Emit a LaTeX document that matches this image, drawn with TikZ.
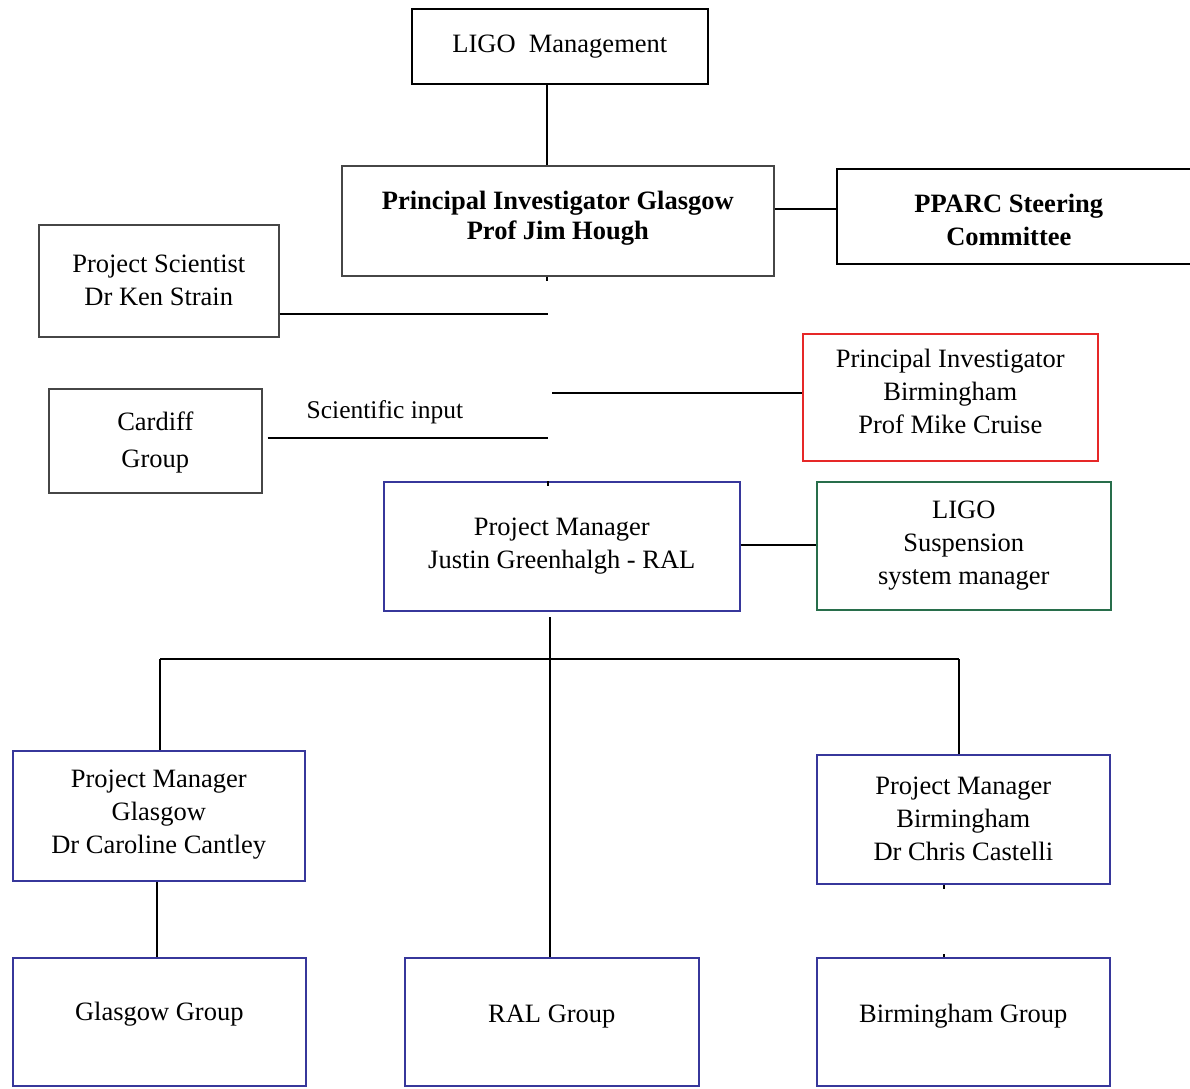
\documentclass[tikz,border=0pt]{standalone}
\usepackage{fontspec}
\setmainfont{Liberation Serif}
\definecolor{navyb}{RGB}{55,55,155}
\definecolor{redb}{RGB}{230,40,40}
\definecolor{greenb}{RGB}{40,110,75}
\definecolor{grayb}{RGB}{70,70,70}
\begin{document}
\begin{tikzpicture}[x=1pt,y=-1pt,
  box/.style={draw, line width=1.6pt, rectangle, inner sep=0pt, anchor=north west, align=center,
    font=\fontsize{26.5}{33}\selectfont},
  txt/.style={align=center, inner sep=0pt, font=\fontsize{26.5}{33}\selectfont},
  bbox/.style={box, font=\fontsize{26.5}{31}\selectfont\bfseries},
  conn/.style={line width=1.6pt, black},
  tick/.style={line width=2pt, black}]
\useasboundingbox (0,0) rectangle (1190,1088);
\fill[white] (0,0) rectangle (1190,1088);

% boxes
\node[box, minimum width=296, minimum height=75] (lm) at (411,8) {LIGO\ \ Management};
\node[bbox, draw=grayb, minimum width=432, minimum height=110,
  label={[name=pigtext, txt, font=\fontsize{26.5}{30}\selectfont\bfseries, yshift=3pt]center:Principal Investigator Glasgow\\Prof Jim Hough}] (pig) at (341,165) {};
\node[bbox, minimum width=366, minimum height=95,
  label={[name=pptext, txt, font=\fontsize{26.5}{33}\selectfont\bfseries, xshift=-11pt, yshift=-4pt]center:PPARC Steering\\Committee}] (pp) at (836,168) {};
\node[box, draw=grayb, minimum width=240, minimum height=112] (ps) at (38,224) {Project Scientist\\Dr Ken Strain};
\node[box, draw=grayb, minimum width=213, minimum height=104,
  label={[name=cgtext, txt, font=\fontsize{26.5}{37}\selectfont, yshift=-2pt]center:Cardiff\\Group}] (cg) at (48,388) {};
\node[box, draw=redb, minimum width=295, minimum height=127,
  label={[name=pibtext, txt, yshift=6pt]center:Principal Investigator\\Birmingham\\Prof Mike Cruise}] (pib) at (802,333) {};
\node[box, draw=navyb, minimum width=356, minimum height=129] (pmr) at (383,481) {Project Manager\\Justin Greenhalgh - RAL};
\node[box, draw=navyb, minimum width=294, minimum height=128] (lss) at (816,481) {LIGO\\Suspension\\system manager};
\node[box, draw=navyb, minimum width=292, minimum height=130,
  label={[name=pmgtext, txt, yshift=1pt]center:Project Manager\\Glasgow\\Dr Caroline Cantley}] (pmg) at (12,750) {};
\node[box, draw=navyb, minimum width=293, minimum height=129] (pmb) at (816,754) {Project Manager\\Birmingham\\Dr Chris Castelli};
\node[box, draw=navyb, minimum width=293, minimum height=128] (gg) at (12,957) {\raisebox{22pt}{Glasgow Group}};
\node[box, draw=navyb, minimum width=294, minimum height=128] (rg) at (404,957) {\raisebox{16pt}{RAL Group}};
\node[box, draw=navyb, minimum width=293, minimum height=128] (bg) at (816,957) {\raisebox{17pt}{Birmingham Group}};
\path (lss) node[draw=greenb, line width=1.6pt, minimum width=294, minimum height=128, inner sep=0pt] (lssframe) {};

\node[font=\fontsize{25.5}{28}\selectfont] (si) at (385,412) {Scientific input};

% free line ends
\coordinate (psend) at (548,314);
\coordinate (pibstart) at (552,393);
\coordinate (cgend) at (548,438);
\coordinate (ralstart) at (550,617);
\coordinate (hl) at (160,659);
\coordinate (hr) at (959,659);

% connectors
\draw[conn] (lm.south -| 547,0) -- (pig.north -| 547,0);
\draw[conn] (pig.east |- 0,209) -- (pp.west |- 0,209);
\draw[conn] (ps.east |- psend) -- (psend);
\draw[conn] (pibstart) -- (pib.west |- pibstart);
\draw[conn] (cg.east |- cgend) ++(5,0) -- (cgend);
\draw[conn] (pmr.east |- 0,545) -- (lss.west |- 0,545);
\draw[conn] (ralstart) -- (rg.north -| ralstart);
\draw[conn] (hl) -- (hr);
\draw[conn] (hl) -- (pmg.north -| hl);
\draw[conn] (hr) -- (pmb.north -| hr);
\draw[conn] (pmg.south -| 157,0) -- (gg.north -| 157,0);

% small ticks
\draw[tick] (pig.south -| 547,0) -- ++(0,4);
\draw[tick] (pmr.north -| 548,0) -- ++(0,5);
\draw[tick] (pmb.south -| 944,0) -- ++(0,4);
\draw[tick] (bg.north -| 944,0) -- ++(0,-3);
\end{tikzpicture}
\end{document}
